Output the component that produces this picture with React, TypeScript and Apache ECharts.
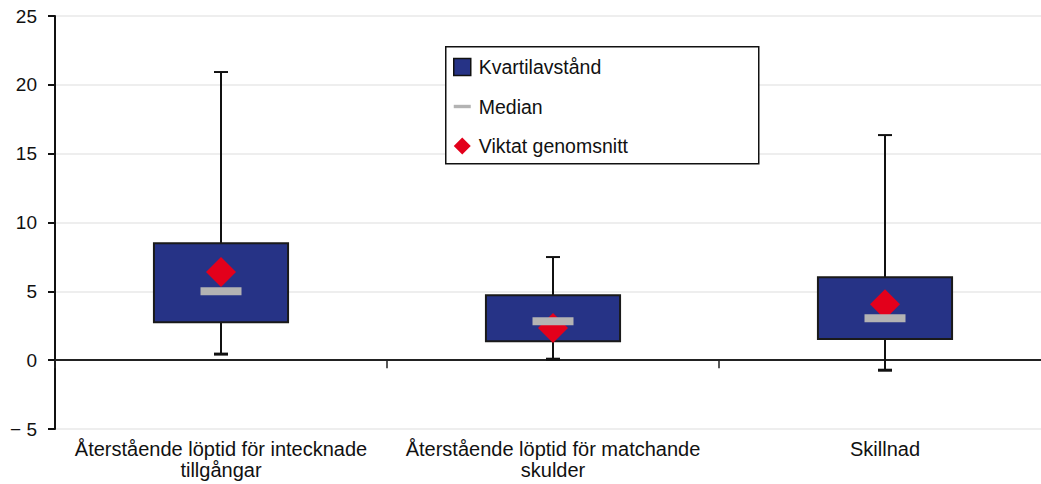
import React, { useEffect, useRef } from "react";
import * as echarts from "echarts";

const categories = [
  "Återstående löptid för intecknade\ntillgångar",
  "Återstående löptid för matchande\nskulder",
  "Skillnad",
];
const whiskerMin = [0.44, 0.07, -0.73];
const q1 = [2.76, 1.38, 1.53];
const medians = [5.01, 2.83, 3.05];
const q3 = [8.5, 4.72, 6.03];
const whiskerMax = [20.93, 7.49, 16.35];
const means = [6.4, 2.33, 4.07];
const yTicks = { min: -5, max: 25, interval: 5 };
const seriesNames = ["Kvartilavstånd", "Median", "Viktat genomsnitt"];

export default function App() {
  const ref = useRef<HTMLDivElement>(null);
  useEffect(() => {
    document.body.style.margin = "0";
    const chart = echarts.init(ref.current!, null, { renderer: "svg" });
    const boxData = categories.map((_, i) => [i, whiskerMin[i], q1[i], q3[i], whiskerMax[i]]);
    const font = "'Liberation Sans', Arial, Helvetica, sans-serif";
    chart.setOption({
      animation: false,
      textStyle: { fontFamily: font },
      grid: { left: 55, top: 16, bottom: 55, right: 0, containLabel: false },
      legend: {
        orient: "vertical",
        left: 453,
        top: 57,
        padding: 0,
        itemWidth: 17,
        itemHeight: 17,
        itemGap: 19.5,
        z: 10,
        textStyle: { fontSize: 19.5, color: "#111", fontFamily: font, padding: [0, 0, 0, 3] },
        data: [
          {
            name: seriesNames[0],
            icon: "rect",
            itemStyle: { color: "#263386", borderColor: "#111", borderWidth: 1.5 },
          },
          { name: seriesNames[1], icon: "path://M0,0h20v4h-20z", itemStyle: { color: "#b3b3b3" } },
          { name: seriesNames[2], icon: "diamond", itemStyle: { color: "#e3001b", opacity: 1 } },
        ],
      },
      graphic: [
        {
          type: "rect",
          left: 445,
          top: 46,
          z: 5,
          shape: { width: 313, height: 117 },
          style: { fill: "#fff", stroke: "#111", lineWidth: 1.5 },
        },
      ],
      xAxis: [
        {
          type: "category",
          data: categories,
          position: "bottom",
          axisLine: { show: false, onZero: false },
          axisTick: { show: false },
          axisLabel: {
            fontSize: 20,
            color: "#111",
            fontFamily: font,
            margin: 9,
            lineHeight: 21,
            interval: 0,
          },
          splitLine: { show: false },
        },
        {
          type: "category",
          data: categories,
          position: "bottom",
          axisLine: { show: true, onZero: true, lineStyle: { color: "#222", width: 2 } },
          axisTick: { show: true, length: 8, lineStyle: { color: "#222", width: 1.5 } },
          axisLabel: { show: false },
          splitLine: { show: false },
        },
      ],
      yAxis: {
        type: "value",
        min: yTicks.min,
        max: yTicks.max,
        interval: yTicks.interval,
        axisLine: { show: true, lineStyle: { color: "#111", width: 2 } },
        axisTick: { show: true, length: 7, lineStyle: { color: "#111", width: 2 } },
        axisLabel: {
          fontSize: 19,
          color: "#111",
          fontFamily: font,
          margin: 18,
          formatter: (v: number) => (v < 0 ? "\u2212 " + Math.abs(v) : String(v)),
        },
        splitLine: { show: true, lineStyle: { color: "#e8e8e8", width: 1.5 } },
      },
      series: [
        {
          name: seriesNames[0],
          type: "custom",
          xAxisIndex: 0,
          z: 3,
          data: boxData,
          renderItem: (params: any, api: any) => {
            const x = api.value(0);
            const pMin = api.coord([x, api.value(1)]);
            const pQ1 = api.coord([x, api.value(2)]);
            const pQ3 = api.coord([x, api.value(3)]);
            const pMax = api.coord([x, api.value(4)]);
            const band = api.size([1, 0])[0];
            const half = band * 0.202;
            const cap = 7;
            const cx = pMin[0];
            const ls = { stroke: "#111", lineWidth: 2 };
            return {
              type: "group",
              children: [
                { type: "line", shape: { x1: cx, y1: pMax[1], x2: cx, y2: pQ3[1] }, style: ls },
                { type: "line", shape: { x1: cx - cap, y1: pMax[1], x2: cx + cap, y2: pMax[1] }, style: ls },
                { type: "line", shape: { x1: cx, y1: pMin[1], x2: cx, y2: pQ1[1] }, style: ls },
                { type: "line", shape: { x1: cx - cap, y1: pMin[1], x2: cx + cap, y2: pMin[1] }, style: { stroke: "#111", lineWidth: 3 } },
                {
                  type: "rect",
                  shape: { x: cx - half, y: pQ3[1], width: half * 2, height: pQ1[1] - pQ3[1] },
                  style: { fill: "#263386", stroke: "#1a1a1a", lineWidth: 2 },
                },
              ],
            };
          },
        },
        {
          name: seriesNames[2],
          type: "scatter",
          z: 4,
          symbol: "diamond",
          symbolSize: 30,
          itemStyle: { color: "#e3001b", opacity: 1 },
          data: categories.map((_, i) => [i, means[i]]),
        },
        {
          name: seriesNames[1],
          type: "scatter",
          z: 5,
          symbol: "rect",
          symbolSize: [41, 8],
          itemStyle: { color: "#b3b3b3", opacity: 1 },
          data: categories.map((_, i) => [i, medians[i]]),
        },
      ],
    });
    return () => chart.dispose();
  }, []);
  return (
    <div style={{ width: 1041, height: 484, overflow: "hidden" }}>
      <div ref={ref} style={{ width: 1051, height: 484 }} />
    </div>
  );
}
